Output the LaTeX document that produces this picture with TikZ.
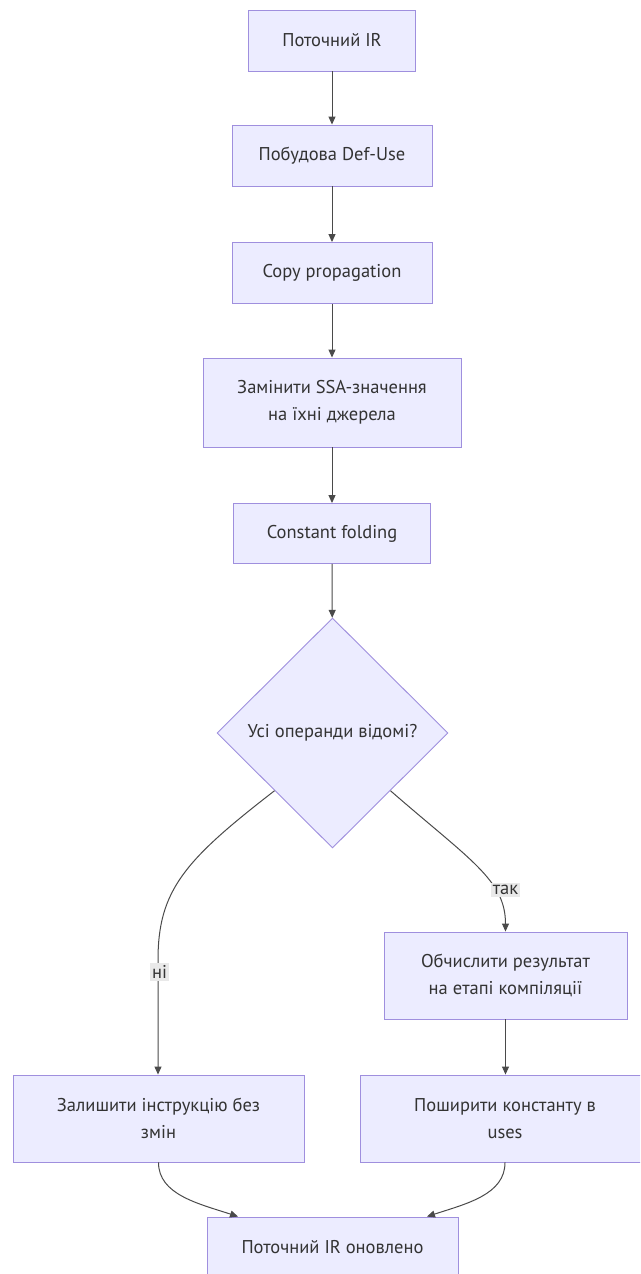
\documentclass[tikz,border=0pt]{standalone}
\usepackage{fontspec}
\setmainfont{PT Sans}
\usetikzlibrary{shapes.geometric,arrows.meta,calc}
\definecolor{boxfill}{HTML}{ECECFF}
\definecolor{boxline}{HTML}{9F8FDE}
\definecolor{ink}{HTML}{333333}
\definecolor{edgeline}{HTML}{4A4A4A}
\definecolor{tagfill}{HTML}{E9E9E9}

\begin{document}
\begin{tikzpicture}[x=1pt,y=-1pt,
  txt/.style={font=\fontsize{18.5}{27}\selectfont, text=ink},
  stepbox/.style={txt, draw=boxline, fill=boxfill, line width=0.9pt, align=center, inner sep=0pt},
  decision/.style={txt, diamond, draw=boxline, fill=boxfill, line width=0.9pt, inner sep=0pt,
    minimum width=231pt, minimum height=230pt},
  flow/.style={draw=edgeline, line width=1pt, -{Triangle[length=8pt,width=7pt]}},
  tag/.style={txt, fill=tagfill, inner sep=2pt}
]
\useasboundingbox (0,0) rectangle (640,1274);
\clip (0,0) rectangle (640,1274);

% main column
\node[stepbox, minimum width=167pt, minimum height=61pt] (ir)   at (332,40.5)  {Поточний IR};
\node[stepbox, minimum width=200pt, minimum height=61pt] (du)   at (332,155.5) {Побудова Def-Use};
\node[stepbox, minimum width=200pt, minimum height=61pt] (cp)   at (332,273)   {Copy propagation};
\node[stepbox, minimum width=258pt, minimum height=89pt] (ssa)  at (332,402.5) {Замінити SSA-значення\\на їхні джерела};
\node[stepbox, minimum width=197pt, minimum height=60pt] (cf)   at (332,533.5) {Constant folding};
\node[decision] (known) at (332.5,733) {Усі операнди відомі?};

% branches
\node[stepbox, minimum width=243pt, minimum height=87pt] (eval) at (505.5,975.5) {Обчислити результат\\на етапі компіляції};
\node[stepbox, minimum width=291pt, minimum height=87pt] (keep) at (158.5,1118.5) {Залишити інструкцію без\\змін};
\node[stepbox, minimum width=290pt, minimum height=87pt] (prop) at (505,1118.5) {Поширити константу в\\uses};
\node[stepbox, minimum width=251pt, minimum height=60pt] (done) at (332.5,1247) {Поточний IR оновлено};

% connectors
\draw[flow] (ir) -- (du);
\draw[flow] (du) -- (cp);
\draw[flow] (cp) -- (ssa);
\draw[flow] (ssa) -- (cf);
\draw[flow] (cf) -- (known);
\draw[flow] (known.south west) .. controls (185,860) and (158,890) .. (158,960) -- (keep.north -| 158,0);
\draw[flow] (known.south east) .. controls (470,860) and (505.5,880) .. (eval.north);
\draw[flow] (eval) -- (eval.south |- prop.north);
\draw[flow] (keep.south) .. controls +(0,32) and +(-40,-13) .. ($(done.north)!0.75!(done.north west)$);
\draw[flow] (prop.south) .. controls +(0,32) and +(40,-13) .. ($(done.north)!0.75!(done.north east)$);

% branch labels
\node[tag] (no)  at (159.5,972) {ні};
\node[tag] (yes) at (505.5,890) {так};
\end{tikzpicture}
\end{document}
